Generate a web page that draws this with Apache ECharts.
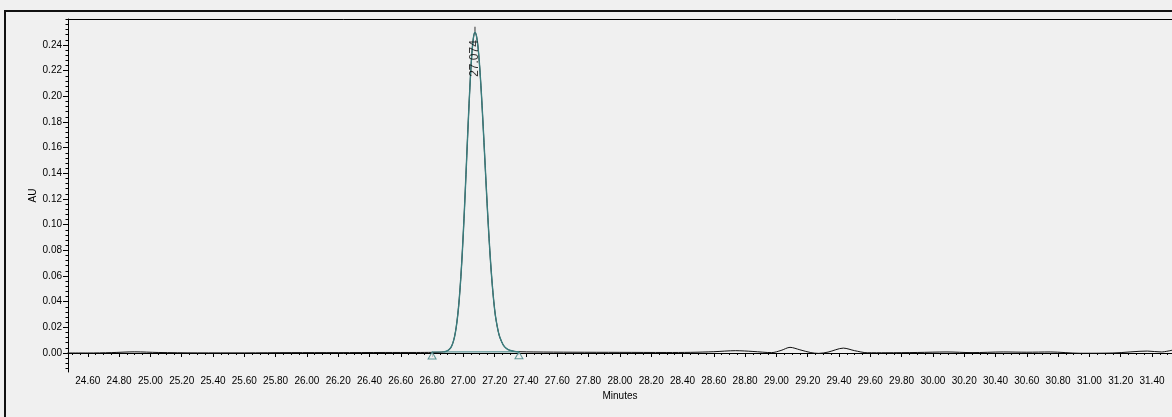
<!DOCTYPE html>
<html><head><meta charset="utf-8">
<script src="https://cdn.jsdelivr.net/npm/echarts@6/dist/echarts.min.js"></script>
<style>html,body{margin:0;padding:0;background:#f0f0f0;overflow:hidden}#c{width:1172px;height:417px}</style>
</head><body><div id="c"></div>
<script>
const xTickLabels = ['24.60','24.80','25.00','25.20','25.40','25.60','25.80','26.00','26.20','26.40','26.60','26.80','27.00','27.20','27.40','27.60','27.80','28.00','28.20','28.40','28.60','28.80','29.00','29.20','29.40','29.60','29.80','30.00','30.20','30.40','30.60','30.80','31.00','31.20','31.40'];
const yTickLabels = ['0.00','0.02','0.04','0.06','0.08','0.10','0.12','0.14','0.16','0.18','0.20','0.22','0.24'];
const signalTimes = [24.47,24.60,24.75,24.90,25.05,25.30,25.60,25.90,26.20,26.50,26.70,26.80,26.85,
  26.874,26.894,26.914,26.924,26.934,26.944,26.954,26.964,26.974,26.984,26.994,27.004,27.014,27.024,27.034,27.044,27.054,27.064,27.074,
  27.084,27.094,27.104,27.114,27.124,27.134,27.144,27.154,27.164,27.174,27.184,27.194,27.204,27.214,27.224,27.234,27.254,27.274,27.294,27.324,27.355,
  27.45,27.70,28.00,28.30,28.45,28.60,28.74,28.85,28.97,29.03,29.087,29.15,29.22,29.27,29.33,29.428,29.50,29.58,29.70,29.90,30.09,30.25,30.45,30.60,30.75,30.94,31.15,31.37,31.46,31.53];
const signalValues = [0.0000,0.0000,0.0003,0.0009,0.0004,0.0001,0.0001,0.0003,0.0003,0.0004,0.0004,0.0005,0.0006,
  0.0009,0.0015,0.0033,0.0052,0.0083,0.0130,0.0200,0.0297,0.0428,0.0597,0.0806,0.1050,0.1321,0.1606,0.1883,0.2131,0.2330,0.2456,0.2500,
  0.2468,0.2377,0.2230,0.2041,0.1820,0.1583,0.1342,0.1109,0.0893,0.0702,0.0539,0.0403,0.0295,0.0221,0.0161,0.0118,0.0064,0.0036,0.0022,0.0013,0.0010,
  0.0008,0.0006,0.0005,0.0004,0.0005,0.0010,0.0018,0.0012,0.0003,0.0020,0.0044,0.0025,0.0003,-0.0003,0.0007,0.0038,0.0018,0.0002,0.0002,0.0004,0.0008,0.0003,0.0008,0.0006,0.0008,-0.0002,0.0000,0.0015,0.0008,0.0022];
const peakRT = 27.074;
const peakHeight = 0.2500;
const peakLabel = '27.074';
const baselineStart = [26.80, 0.0008];
const baselineEnd = [27.355, 0.0009];

const TEAL = '#3a7d7e';
const FONT = 'Arial, "Liberation Sans", sans-serif';
const xMin = 24.4735, xMax = 31.5278, yMin = -0.01481, yMax = 0.26026;

const signal = signalTimes.map((t, i) => [t, signalValues[i]]);
const peakSeg = signal.filter(p => p[0] >= 26.87 && p[0] <= baselineEnd[0]);
const xMajor = xTickLabels.map(Number);
const yMajor = yTickLabels.map(Number);
const xMinor = []; for (let i = 2450; i <= 3150; i += 5) xMinor.push(i / 100);
const yMinor = []; for (let i = -12; i <= 260; i += 4) yMinor.push(i / 1000);

const chart = echarts.init(document.getElementById('c'), null, {renderer: 'canvas'});
const noText = {show: false};
chart.setOption({
  animation: false,
  backgroundColor: '#f0f0f0',
  textStyle: {fontFamily: FONT},
  grid: {left: 68, right: 0, top: 19, bottom: 45, containLabel: false, outerBoundsMode: 'none'},
  graphic: [{type: 'rect', shape: {x: 5, y: 11, width: 1250, height: 500}, style: {fill: null, stroke: '#111', lineWidth: 2}, silent: true}],
  xAxis: [
    {type: 'value', position: 'bottom', min: xMin, max: xMax,
     axisLine: {show: true, lineStyle: {color: '#000', width: 1}},
     axisTick: {show: true, customValues: xMajor, length: 4, lineStyle: {color: '#000'}},
     axisLabel: {show: true, customValues: xMajor, formatter: v => v.toFixed(2), color: '#000', fontSize: 10, fontFamily: FONT, margin: 4},
     splitLine: {show: false},
     name: 'Minutes', nameLocation: 'middle', nameGap: 19, nameMoveOverlap: false, nameTextStyle: {color: '#000', fontSize: 10, fontFamily: FONT}},
    {type: 'value', position: 'bottom', min: xMin, max: xMax,
     axisLine: {show: false}, axisTick: {show: true, customValues: xMinor, length: 2, lineStyle: {color: '#000'}},
     axisLabel: noText, splitLine: {show: false}},
    {type: 'value', position: 'top', min: xMin, max: xMax,
     axisLine: {show: true, lineStyle: {color: '#000', width: 1}}, axisTick: {show: false},
     axisLabel: noText, splitLine: {show: false}}
  ],
  yAxis: [
    {type: 'value', position: 'left', min: yMin, max: yMax,
     axisLine: {show: true, lineStyle: {color: '#000', width: 1}},
     axisTick: {show: true, customValues: yMajor, length: 5, lineStyle: {color: '#000'}},
     axisLabel: {show: true, customValues: yMajor, formatter: v => v.toFixed(2), color: '#000', fontSize: 10, fontFamily: FONT, margin: 6},
     splitLine: {show: false},
     name: 'AU', nameLocation: 'middle', nameGap: 30, nameRotate: 90, nameMoveOverlap: false, nameTextStyle: {color: '#000', fontSize: 10, fontFamily: FONT}},
    {type: 'value', position: 'left', min: yMin, max: yMax,
     axisLine: {show: false}, axisTick: {show: true, customValues: yMinor, length: 2.5, lineStyle: {color: '#000'}},
     axisLabel: noText, splitLine: {show: false}}
  ],
  series: [
    {type: 'line', data: signal, symbol: 'none', smooth: 0.3, lineStyle: {color: '#111', width: 1}, z: 2, silent: true},
    {type: 'line', data: [baselineStart, baselineEnd], symbol: 'none', lineStyle: {color: TEAL, width: 1}, z: 3, silent: true},
    {type: 'line', data: peakSeg, symbol: 'none', smooth: 0.3, lineStyle: {color: TEAL, width: 1.4}, z: 4, silent: true},
    {type: 'scatter', data: [baselineStart, baselineEnd], symbol: 'triangle', symbolSize: [8, 7], symbolOffset: [0, 3.5],
     itemStyle: {color: '#f0f0f0', borderColor: TEAL, borderWidth: 1}, z: 5, silent: true},
    {type: 'scatter', data: [[peakRT, peakHeight]], symbol: 'rect', symbolSize: [1, 5], symbolOffset: [0, -3],
     itemStyle: {color: '#000'}, z: 6, silent: true,
     label: {show: true, formatter: peakLabel, position: 'inside', rotate: 90, align: 'right', verticalAlign: 'middle',
             padding: [0, 11, 0, 0], color: '#000', fontSize: 12, fontFamily: FONT}}
  ]
});
</script></body></html>
